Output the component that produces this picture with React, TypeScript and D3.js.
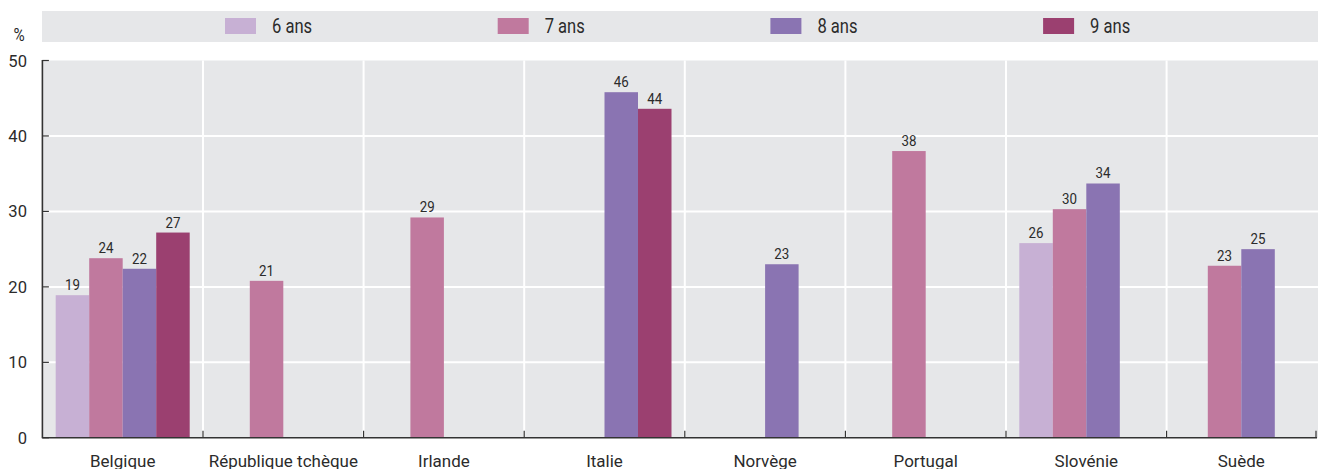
import React from "react";
import * as d3 from "d3";

const categories = ["Belgique", "République tchèque", "Irlande", "Italie", "Norvège", "Portugal", "Slovénie", "Suède"];
const seriesNames = ["6 ans", "7 ans", "8 ans", "9 ans"];
const seriesColors = ["#c7b0d4", "#c0799e", "#8a74b2", "#9b4070"];
// values per series, aligned with categories (null = no data)
const age6: (number | null)[] = [18.9, null, null, null, null, null, 25.8, null];
const age7: (number | null)[] = [23.8, 20.8, 29.2, null, null, 38.0, 30.3, 22.8];
const age8: (number | null)[] = [22.4, null, null, 45.8, 23.0, null, 33.7, 25.0];
const age9: (number | null)[] = [27.2, null, null, 43.6, null, null, null, null];
const seriesValues = [age6, age7, age8, age9];
const yTicks = [0, 10, 20, 30, 40, 50];

const W = 1318, H = 469;
const FONT = "'Roboto', 'Liberation Sans', sans-serif";

function CText(props: { x: number; y: number; sx?: number; size: number; anchor?: string; children: React.ReactNode }) {
  const { x, y, sx = 1, size, anchor = "start", children } = props;
  return (
    <text transform={`translate(${x},${y}) scale(${sx},1)`} fontSize={size} textAnchor={anchor} fill="#2b2b2b">
      {children}
    </text>
  );
}

export default function App() {
  const left = 42.4, right = 1316, top = 60.5, bottom = 437.8;
  const bandStep = 160.6;
  const x = d3.scaleBand<string>().domain(categories).range([left, left + bandStep * categories.length]).padding(0);
  const y = d3.scaleLinear().domain([0, 50]).range([bottom, top]);
  const barW = 33.5;
  const inner = d3.scaleBand<string>().domain(seriesNames).range([-2 * barW, 2 * barW]).padding(0);
  const center = (c: string) => {
    const x0 = x(c)!;
    const x1 = Math.min(x0 + x.bandwidth(), right);
    return (x0 + x1) / 2;
  };
  const boundaries = categories.slice(1).map((c) => x(c)!);

  return (
    <svg width={W} height={H} style={{ position: "absolute", left: 0, top: 0, display: "block" }} fontFamily={FONT}>
      <rect x={0} y={0} width={W} height={H} fill="#ffffff" />
      {/* legend band */}
      <rect x={42} y={11} width={W - 42} height={31} fill="#e6e7e9" />
      {seriesNames.map((s, i) => {
        const lx = 225 + i * 272.7;
        return (
          <g key={s}>
            <rect x={lx} y={18} width={31} height={16} fill={seriesColors[i]} />
            <CText x={lx + 47} y={33.3} size={19.5} sx={0.85}>{s}</CText>
          </g>
        );
      })}
      {/* plot background */}
      <rect x={left} y={top} width={W - left} height={bottom - top} fill="#e6e7e9" />
      {yTicks.filter((t) => t > 0 && t < 50).map((t) => (
        <line key={t} x1={left} x2={W} y1={y(t)} y2={y(t)} stroke="#ffffff" strokeWidth={2} />
      ))}
      {boundaries.map((bx, i) => (
        <line key={i} x1={bx} x2={bx} y1={top} y2={bottom} stroke="#ffffff" strokeWidth={2} />
      ))}
      {/* bars */}
      {seriesValues.map((vals, si) =>
        vals.map((v, ci) => {
          if (v == null) return null;
          const c = categories[ci];
          const bx = center(c) + inner(seriesNames[si])!;
          return (
            <g key={`${si}-${ci}`}>
              <rect x={bx} y={y(v)} width={barW} height={bottom - y(v)} fill={seriesColors[si]} />
              <CText x={bx + barW / 2} y={y(v) - 5} size={15.5} sx={0.86} anchor="middle">
                {Math.round(v)}
              </CText>
            </g>
          );
        })
      )}
      {/* axes */}
      <line x1={left} x2={left} y1={top - 0.5} y2={bottom + 0.5} stroke="#333" strokeWidth={1.6} />
      <line x1={left} x2={right + 1} y1={bottom} y2={bottom} stroke="#333" strokeWidth={1.6} />
      {yTicks.map((t) => (
        <g key={t}>
          <line x1={left} x2={left + 6.5} y1={y(t)} y2={y(t)} stroke="#333" strokeWidth={1.2} />
          <CText x={27} y={y(t) + 6} size={17.3} sx={0.96} anchor="end">{t}</CText>
        </g>
      ))}
      {[...boundaries, right].map((bx, i) => (
        <line key={i} x1={bx} x2={bx} y1={bottom - 7} y2={bottom} stroke="#333" strokeWidth={1.2} />
      ))}
      <CText x={19} y={41} size={18} sx={0.85} anchor="middle">%</CText>
      {categories.map((c) => (
        <CText key={c} x={center(c)} y={466.5} size={16.5} sx={1.03} anchor="middle">{c}</CText>
      ))}
    </svg>
  );
}
